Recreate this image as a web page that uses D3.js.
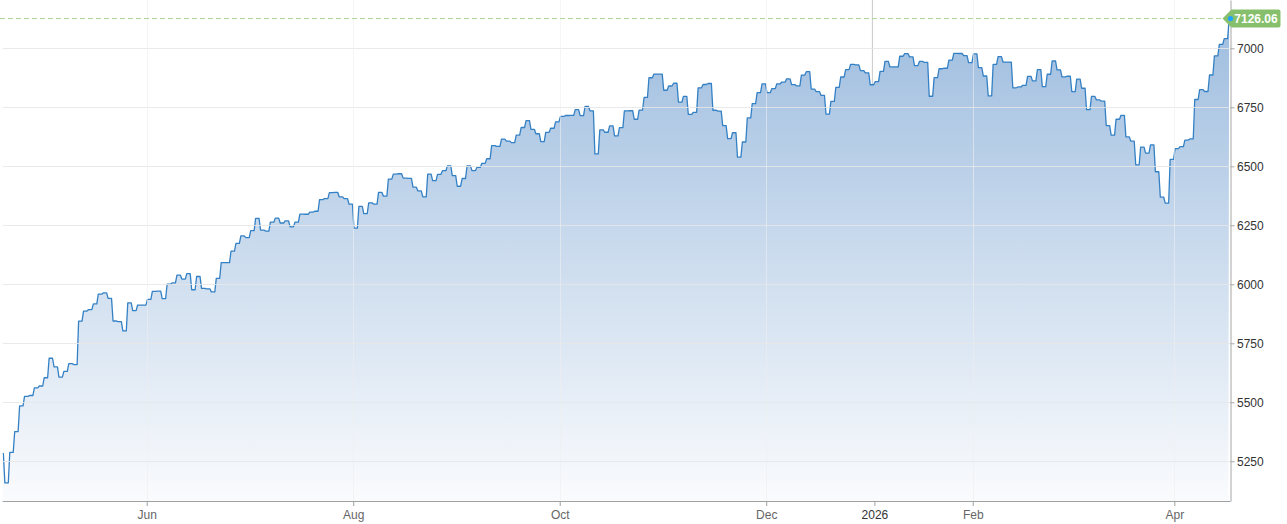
<!DOCTYPE html>
<html>
<head>
<meta charset="utf-8">
<script src="https://cdn.jsdelivr.net/npm/d3@7"></script>
<style>
  html, body { margin: 0; padding: 0; background: #fff; }
  svg { display: block; font-family: "Liberation Sans", Arial, Helvetica, sans-serif; }
</style>
</head>
<body>
<svg id="chart" width="1287" height="524"></svg>
<script>
// ---- data: S&P 500 daily closes (one trading session per entry) ----
const dates = [
  "2025-04-17","2025-04-21","2025-04-22","2025-04-23","2025-04-24","2025-04-25","2025-04-28","2025-04-29","2025-04-30",
  "2025-05-01","2025-05-02","2025-05-05","2025-05-06","2025-05-07","2025-05-08","2025-05-09","2025-05-12","2025-05-13","2025-05-14","2025-05-15","2025-05-16","2025-05-19","2025-05-20","2025-05-21","2025-05-22","2025-05-23","2025-05-27","2025-05-28","2025-05-29","2025-05-30",
  "2025-06-02","2025-06-03","2025-06-04","2025-06-05","2025-06-06","2025-06-09","2025-06-10","2025-06-11","2025-06-12","2025-06-13","2025-06-16","2025-06-17","2025-06-18","2025-06-20","2025-06-23","2025-06-24","2025-06-25","2025-06-26","2025-06-27","2025-06-30",
  "2025-07-01","2025-07-02","2025-07-03","2025-07-07","2025-07-08","2025-07-09","2025-07-10","2025-07-11","2025-07-14","2025-07-15","2025-07-16","2025-07-17","2025-07-18","2025-07-21","2025-07-22","2025-07-23","2025-07-24","2025-07-25","2025-07-28","2025-07-29","2025-07-30","2025-07-31",
  "2025-08-01","2025-08-04","2025-08-05","2025-08-06","2025-08-07","2025-08-08","2025-08-11","2025-08-12","2025-08-13","2025-08-14","2025-08-15","2025-08-18","2025-08-19","2025-08-20","2025-08-21","2025-08-22","2025-08-25","2025-08-26","2025-08-27","2025-08-28","2025-08-29",
  "2025-09-02","2025-09-03","2025-09-04","2025-09-05","2025-09-08","2025-09-09","2025-09-10","2025-09-11","2025-09-12","2025-09-15","2025-09-16","2025-09-17","2025-09-18","2025-09-19","2025-09-22","2025-09-23","2025-09-24","2025-09-25","2025-09-26","2025-09-29","2025-09-30",
  "2025-10-01","2025-10-02","2025-10-03","2025-10-06","2025-10-07","2025-10-08","2025-10-09","2025-10-10","2025-10-13","2025-10-14","2025-10-15","2025-10-16","2025-10-17","2025-10-20","2025-10-21","2025-10-22","2025-10-23","2025-10-24","2025-10-27","2025-10-28","2025-10-29","2025-10-30","2025-10-31",
  "2025-11-03","2025-11-04","2025-11-05","2025-11-06","2025-11-07","2025-11-10","2025-11-11","2025-11-12","2025-11-13","2025-11-14","2025-11-17","2025-11-18","2025-11-19","2025-11-20","2025-11-21","2025-11-24","2025-11-25","2025-11-26","2025-11-28",
  "2025-12-01","2025-12-02","2025-12-03","2025-12-04","2025-12-05","2025-12-08","2025-12-09","2025-12-10","2025-12-11","2025-12-12","2025-12-15","2025-12-16","2025-12-17","2025-12-18","2025-12-19","2025-12-22","2025-12-23","2025-12-24","2025-12-26","2025-12-29","2025-12-30","2025-12-31",
  "2026-01-02","2026-01-05","2026-01-06","2026-01-07","2026-01-08","2026-01-09","2026-01-12","2026-01-13","2026-01-14","2026-01-15","2026-01-16","2026-01-20","2026-01-21","2026-01-22","2026-01-23","2026-01-26","2026-01-27","2026-01-28","2026-01-29","2026-01-30",
  "2026-02-02","2026-02-03","2026-02-04","2026-02-05","2026-02-06","2026-02-09","2026-02-10","2026-02-11","2026-02-12","2026-02-13","2026-02-17","2026-02-18","2026-02-19","2026-02-20","2026-02-23","2026-02-24","2026-02-25","2026-02-26","2026-02-27",
  "2026-03-02","2026-03-03","2026-03-04","2026-03-05","2026-03-06","2026-03-09","2026-03-10","2026-03-11","2026-03-12","2026-03-13","2026-03-16","2026-03-17","2026-03-18","2026-03-19","2026-03-20","2026-03-23","2026-03-24","2026-03-25","2026-03-26","2026-03-27","2026-03-30","2026-03-31",
  "2026-04-01","2026-04-02","2026-04-06","2026-04-07","2026-04-08","2026-04-09","2026-04-10","2026-04-13","2026-04-14","2026-04-15","2026-04-16","2026-04-17"
];

const closes = [
  5282.70,5158.20,5287.76,5375.86,5484.77,5525.21,5528.75,5560.83,5569.06,
  5604.14,5686.67,5650.38,5606.91,5631.28,5663.94,5659.91,5844.19,5886.55,5892.58,5916.93,5958.38,5963.60,5940.46,5844.61,5842.01,5802.82,5921.54,5888.55,5912.17,5911.69,
  5935.94,5970.37,5970.81,5939.30,6000.36,6005.88,6038.81,6022.24,6045.26,5976.97,6033.11,5982.72,5980.87,5967.84,6025.17,6092.18,6092.16,6141.02,6173.07,6204.95,
  6198.01,6227.42,6279.35,6229.98,6225.52,6263.26,6280.46,6259.75,6268.56,6243.76,6263.70,6297.36,6296.79,6305.60,6309.62,6358.91,6363.35,6388.64,6389.77,6370.86,6362.90,6339.39,
  6238.01,6329.94,6299.19,6345.06,6340.00,6389.45,6373.45,6445.76,6466.58,6468.54,6449.80,6449.15,6411.37,6395.78,6370.17,6466.91,6439.32,6465.94,6481.40,6501.86,6460.26,
  6415.54,6448.26,6502.08,6481.50,6495.15,6512.61,6532.04,6587.47,6584.29,6615.28,6606.76,6600.35,6631.96,6664.36,6693.75,6656.92,6637.97,6604.72,6643.70,6661.21,6688.46,
  6711.20,6715.35,6715.79,6740.28,6714.59,6753.72,6735.11,6552.51,6654.72,6644.31,6671.06,6629.07,6664.01,6735.13,6735.35,6699.40,6738.44,6791.69,6875.16,6890.89,6890.59,6822.34,6840.20,
  6851.97,6771.55,6796.29,6720.32,6728.80,6832.43,6846.61,6850.92,6737.49,6734.11,6672.41,6617.32,6642.16,6538.76,6602.99,6705.12,6765.88,6812.61,6849.09,
  6812.63,6829.37,6849.72,6857.12,6870.40,6846.51,6840.51,6886.68,6901.00,6827.41,6816.51,6800.26,6721.43,6774.76,6834.50,6878.49,6909.79,6932.05,6929.94,6905.74,6896.24,6845.50,
  6858.47,6902.05,6944.82,6920.93,6921.46,6966.28,6977.27,6963.74,6926.60,6944.47,6940.01,6796.86,6875.62,6913.35,6915.61,6950.23,6978.60,6978.03,6969.01,6939.03,
  6976.44,6917.81,6882.72,6798.40,6932.30,6964.82,6941.81,6941.47,6832.76,6836.17,6843.22,6881.31,6861.89,6909.51,6837.75,6890.07,6946.13,6908.86,6878.88,
  6881.62,6816.63,6869.50,6830.71,6740.02,6795.99,6781.48,6775.80,6672.62,6632.19,6699.38,6716.09,6624.70,6606.49,6506.48,6581,6556,6591,6477,6369,6344,6529,
  6575,6583,6611,6616,6783,6825,6817,6887,6968,7017,7041,7126.06
];

const tickDates  = ["2025-06-02","2025-08-01","2025-10-01","2025-12-01","2026-01-02","2026-02-02","2026-04-01"];
const tickLabels = ["Jun","Aug","Oct","Dec","2026","Feb","Apr"];
const yTicks     = [5250, 5500, 5750, 6000, 6250, 6500, 6750, 7000];
const lastLabel  = "7126.06";

// ---- layout ----
const svg = d3.select("#chart");
const plotLeft = 2.7, plotRight = 1230.5, plotTop = 0, plotBottom = 501;

const x = d3.scalePoint().domain(dates).range([-0.8, 1228.4]).padding(0);
const y = d3.scaleLinear().domain([5081.8, 7204.7]).range([plotBottom, plotTop]);

const data = dates.map((d, i) => ({ d, v: closes[i] }));

// step curve with short slanted transitions
const s = 0.75;
function slantStep(context) {
  let px, py, n, line;
  return {
    areaStart() { line = 0; },
    areaEnd() { line = NaN; },
    lineStart() { n = 0; },
    lineEnd() {
      if (line || (line !== 0 && n === 1)) context.closePath();
      line = 1 - line;
    },
    point(xx, yy) {
      xx = +xx; yy = +yy;
      if (n === 0) {
        line ? context.lineTo(xx, yy) : context.moveTo(xx, yy);
      } else {
        const dir = xx >= px ? 1 : -1;
        context.lineTo(xx - dir * s, py);
        context.lineTo(xx + dir * s, yy);
      }
      px = xx; py = yy; n++;
    }
  };
}

const defs = svg.append("defs");
defs.append("clipPath").attr("id", "plotclip")
  .append("rect").attr("x", plotLeft).attr("y", plotTop)
  .attr("width", plotRight - plotLeft).attr("height", plotBottom - plotTop);

const grad = defs.append("linearGradient").attr("id", "areagrad")
  .attr("gradientUnits", "userSpaceOnUse")
  .attr("x1", 0).attr("y1", plotTop).attr("x2", 0).attr("y2", plotBottom);
grad.append("stop").attr("offset", "0%").attr("stop-color", "#9bbbde");
grad.append("stop").attr("offset", "100%").attr("stop-color", "#fafbfd");

// year plot line (beneath area)
svg.append("line")
  .attr("x1", x("2026-01-02") - 2).attr("x2", x("2026-01-02") - 2)
  .attr("y1", plotTop).attr("y2", plotBottom)
  .attr("stroke", "#c9c9c9").attr("stroke-width", 1);

const g = svg.append("g").attr("clip-path", "url(#plotclip)");

const area = d3.area()
  .x(d => x(d.d)).y0(plotBottom).y1(d => y(d.v))
  .curve(slantStep);

g.append("path").datum(data)
  .attr("d", area)
  .attr("fill", "url(#areagrad)");

// gridlines
svg.append("g").selectAll("line").data(yTicks).join("line")
  .attr("x1", plotLeft).attr("x2", plotRight)
  .attr("y1", d => Math.round(y(d)) + 0.5).attr("y2", d => Math.round(y(d)) + 0.5)
  .attr("stroke", "#e6e6e6").attr("stroke-opacity", 0.85);

svg.append("g").selectAll("line").data(tickDates.filter(d => d !== "2026-01-02")).join("line")
  .attr("x1", d => Math.round(x(d)) + 0.5).attr("x2", d => Math.round(x(d)) + 0.5)
  .attr("y1", plotTop).attr("y2", plotBottom)
  .attr("stroke", "#eeeeee").attr("stroke-opacity", 0.6);

const line = d3.line()
  .x(d => x(d.d)).y(d => y(d.v))
  .curve(slantStep);

g.append("path").datum(data)
  .attr("d", line)
  .attr("fill", "none")
  .attr("stroke", "#3480c4")
  .attr("stroke-width", 1.3)
  .attr("stroke-linejoin", "round");

// x axis
svg.append("line")
  .attr("x1", plotLeft).attr("x2", plotRight)
  .attr("y1", plotBottom + 0.5).attr("y2", plotBottom + 0.5)
  .attr("stroke", "#a0a0a0");

const xAxis = d3.axisBottom(x)
  .tickValues(tickDates)
  .tickFormat((d, i) => tickLabels[tickDates.indexOf(d)])
  .tickSize(5).tickSizeOuter(0).tickPadding(4.5);

const gx = svg.append("g").attr("transform", `translate(0,${plotBottom})`).call(xAxis);
gx.select(".domain").remove();
gx.selectAll(".tick line").attr("stroke", "#a0a0a0");
gx.selectAll(".tick text")
  .attr("font-size", 12)
  .attr("font-family", "Liberation Sans, Arial, sans-serif")
  .attr("fill", d => d === "2026-01-02" ? "#333" : "#666");

// y axis (right)
const yAxis = d3.axisRight(y)
  .tickValues(yTicks)
  .tickFormat(d3.format("d"))
  .tickSize(4).tickSizeOuter(0).tickPadding(2.5);

const gy = svg.append("g").attr("transform", `translate(${plotRight},0)`).call(yAxis);
gy.select(".domain").attr("stroke", "#a6a6a6");
gy.selectAll(".tick line").attr("stroke", "#a6a6a6");
gy.selectAll(".tick text")
  .attr("font-size", 12)
  .attr("font-family", "Liberation Sans, Arial, sans-serif")
  .attr("fill", "#333");

// last value marker
const last = data[data.length - 1];
const ly = y(last.v);

svg.append("line")
  .attr("x1", 0).attr("x2", 1224)
  .attr("y1", ly).attr("y2", ly)
  .attr("stroke", "#a9d897").attr("stroke-width", 1)
  .attr("stroke-dasharray", "5,3");

const bx0 = 1222.5, bx1 = 1280.5, bh = 9;
svg.append("path")
  .attr("d", `M${bx0},${ly} L${bx0 + 9},${ly - bh} L${bx1 - 2},${ly - bh} Q${bx1},${ly - bh} ${bx1},${ly - bh + 2} L${bx1},${ly + bh - 2} Q${bx1},${ly + bh} ${bx1 - 2},${ly + bh} L${bx0 + 9},${ly + bh} Z`)
  .attr("fill", "#86c06d");

svg.append("text")
  .attr("x", 1256).attr("y", ly + 4.3)
  .attr("text-anchor", "middle")
  .attr("font-size", 12).attr("font-weight", "bold")
  .attr("fill", "#fff")
  .text(lastLabel);

svg.append("circle")
  .attr("cx", plotRight).attr("cy", ly).attr("r", 2.6)
  .attr("fill", "#1ea4ff");
</script>
</body>
</html>
